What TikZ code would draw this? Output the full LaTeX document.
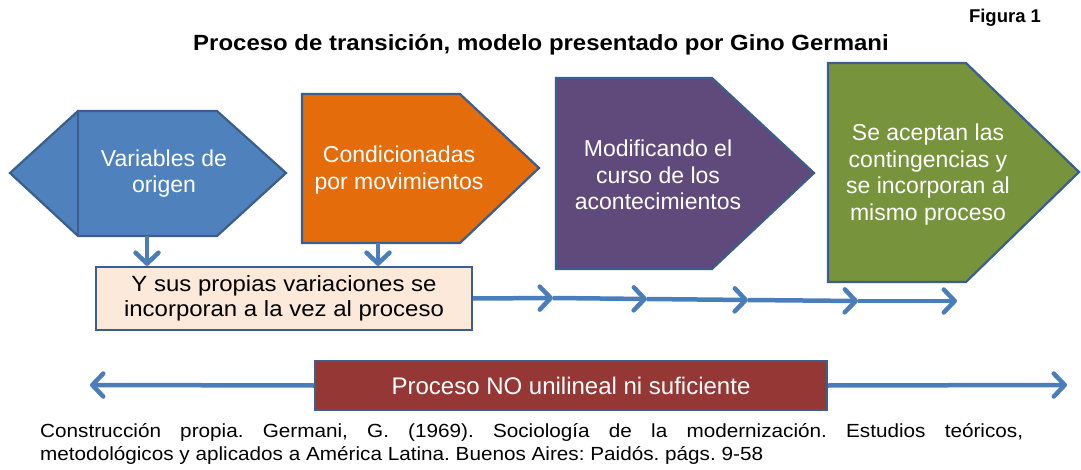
\documentclass[tikz,border=0pt]{standalone}
\usepackage{fontspec}
\setmainfont{Liberation Sans}
\newfontfamily\widesans[FakeStretch=1.09]{Liberation Sans}
\usetikzlibrary{arrows.meta,positioning,calc,backgrounds}
\definecolor{edgeblue}{HTML}{3B5E8C}
\definecolor{flowblue}{HTML}{4A7EBB}
\definecolor{origblue}{HTML}{4F81BD}
\definecolor{condorange}{HTML}{E46C0A}
\definecolor{modpurple}{HTML}{604A7B}
\definecolor{acepgreen}{HTML}{77933C}
\definecolor{peach}{HTML}{FDE9D9}
\definecolor{barred}{HTML}{953735}

\begin{document}
\begin{tikzpicture}
[x=1pt,y=-1pt,
    outline/.style={draw=edgeblue,line width=2.2pt,line join=miter},
    stagetxt/.style={text=white,align=center,inner sep=0pt,
    font=\fontsize{23}{26.5}\selectfont},
    flow/.style={draw=flowblue,line width=4.5pt,
    -{Straight Barb[length=11pt,width=23pt,round]}},
    varbox/.style={outline,fill=peach,minimum width=376,minimum height=63,
    align=center,font=\widesans\fontsize{22}{25}\selectfont},
    barbox/.style={outline,fill=barred,text=white,minimum width=512,
    minimum height=49,font=\fontsize{24}{28}\selectfont}]
\useasboundingbox (0,0) rectangle (1081,470);
%% titles
\node (fig) at (1005,18) {\fontsize{18.5}{22}\selectfont\bfseries Figura 1};
\node (title) at (541,45) {\widesans\fontsize{22}{26}\selectfont\bfseries
Proceso de transición, modelo presentado por Gino Germani};
%% stage shapes
\begin{scope}[on background layer]
\draw[outline,fill=origblue] (10,173) -- (78,111) -- (217,111) -- (286,173)
-- (217,236) -- (78,236) -- cycle;
\draw[outline] (78,111) -- (78,236);
\draw[outline,fill=condorange] (302,94) -- (460,94) -- (539,168)
-- (460,243) -- (302,243) -- cycle;
\draw[outline,fill=modpurple] (556,78) -- (712,78) -- (814,173)
-- (712,269) -- (556,269) -- cycle;
\draw[outline,fill=acepgreen] (828,63) -- (966,63) -- (1079,172)
-- (966,282) -- (828,282) -- cycle;
\end{scope}
%% stage texts
\node (origen) [stagetxt] at (164,173.5) {Variables de\\origen};
\node (condic) [stagetxt] at (399,170) {Condicionadas\\por movimientos};
\node (modif) [stagetxt] at (658,175) {Modificando el\\curso de los\\acontecimientos};
\node (acept) [stagetxt] at (928,174.5) {Se aceptan las\\contingencias y\\se incorporan al\\mismo proceso};
%% box and bar
\node (varia) [varbox] at (284,298.5) {Y sus propias variaciones se\\incorporan a la vez al proceso};
\node (bar) [barbox] at (571,385.5) {Proceso NO unilineal ni suficiente};
%% edges
\coordinate (o-s) at (147,236);
\coordinate (c-s) at (378,243);
\draw[flow] (o-s) -- (o-s |- varia.north);
\draw[flow] (c-s) -- (c-s |- varia.north);
\coordinate (h1) at (553,298);
\coordinate (h2) at (647,299);
\coordinate (h3) at (748,300);
\coordinate (h4) at (858,301);
\coordinate (h5) at (957,301);
\draw[flow] (varia.east) -- (h1);
\foreach \a/\b in {h1/h2,h2/h3,h3/h4,h4/h5}
  \draw[flow] (\a) -- (\b);
\coordinate (lft) at (90,385);
\coordinate (rgt) at (1067,385);
\draw[flow] (bar.west) -- (lft);
\draw[flow] (bar.east) -- (rgt);
%% source
\node (cite) [anchor=north west,inner sep=0pt,text width=983,align=justify,
font=\widesans\fontsize{19}{23}\selectfont\frenchspacing] at (40,423) {Construcción propia. Germani, G. (1969). Sociología de la modernización. Estudios teóricos,\linebreak metodológicos y aplicados a América Latina. Buenos Aires: Paidós. págs. 9-58};
\end{tikzpicture}
\end{document}
